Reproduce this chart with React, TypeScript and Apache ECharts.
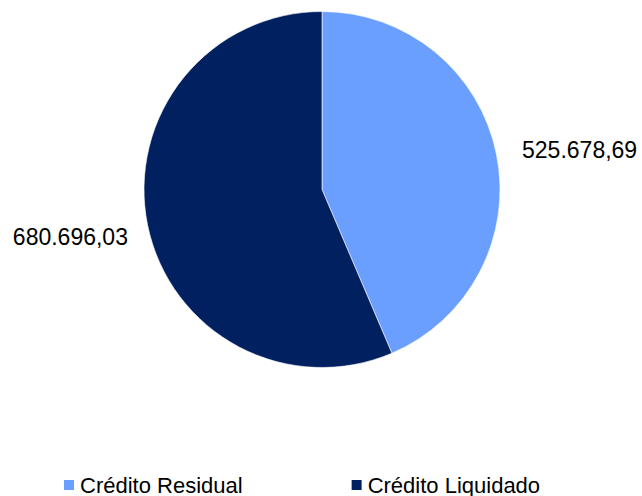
import React, { useEffect, useRef } from "react";
import * as echarts from "echarts";

const categories = ["Crédito Residual", "Crédito Liquidado"];
const values = [525678.69, 680696.03];
const colors = ["#6B9FFF", "#002060"];

function fmt(v: number): string {
  const fixed = v.toFixed(2);
  const [int, dec] = fixed.split(".");
  const withSep = int.replace(/\B(?=(\d{3})+(?!\d))/g, ".");
  return withSep + "," + dec;
}

export default function App() {
  const ref = useRef<HTMLDivElement>(null);
  useEffect(() => {
    document.body.style.margin = "0";
    const chart = echarts.init(ref.current!, undefined, { renderer: "svg" });
    chart.setOption({
      animation: false,
      backgroundColor: "#ffffff",
      legend: {
        data: categories,
        top: 474,
        left: 62,
        padding: 0,
        itemWidth: 12,
        itemHeight: 12,
        itemGap: 107,
        icon: "rect",
        textStyle: {
          fontFamily: "Liberation Sans, Arial, sans-serif",
          fontSize: 22,
          color: "#000",
        },
      },
      series: [
        {
          type: "pie",
          center: [322, 189.5],
          radius: 178,
          startAngle: 90,
          clockwise: true,
          itemStyle: { borderColor: "#ffffff", borderWidth: 0.6 },
          emphasis: { disabled: true },
          label: {
            show: true,
            position: "outside",
            formatter: (p: any) => fmt(p.value),
            fontFamily: "Liberation Sans, Arial, sans-serif",
            fontSize: 23,
            color: "#000",
            distanceToLabelLine: 5,
            overflow: "none",
            edgeDistance: 0,
          },
          labelLine: { show: false, length: 17, length2: 4 },
          labelLayout: (params: any) => {
            if (params.dataIndex === 1) {
              return { dx: 6, dy: 8.5 };
            }
            return {};
          },
          data: categories.map((name, i) => ({
            name,
            value: values[i],
            itemStyle: { color: colors[i] },
          })),
        },
      ],
    });
    return () => chart.dispose();
  }, []);
  return (
    <div
      ref={ref}
      style={{ position: "fixed", left: 0, top: 0, width: 642, height: 496 }}
    />
  );
}
